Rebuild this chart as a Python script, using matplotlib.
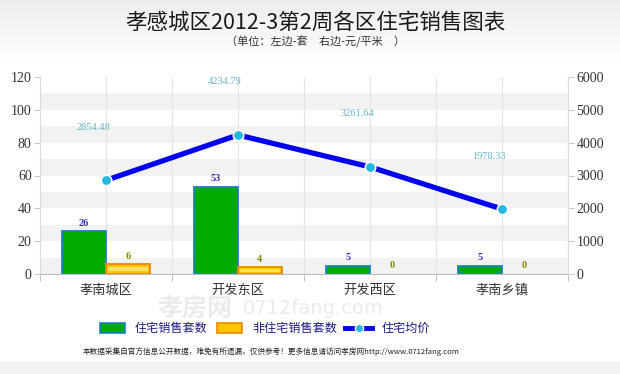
import matplotlib
matplotlib.use("Agg")
import matplotlib.pyplot as plt
import numpy as np
from matplotlib.patches import Rectangle
from matplotlib.lines import Line2D

categories = ["孝南城区", "开发东区", "开发西区", "孝南乡镇"]
residential_sets = [26, 53, 5, 5]
nonresidential_sets = [6, 4, 0, 0]
avg_price = [2854.48, 4234.79, 3261.64, 1978.33]
left_ticks = [0, 20, 40, 60, 80, 100, 120]
right_ticks = [0, 1000, 2000, 3000, 4000, 5000, 6000]
title = "孝感城区2012-3第2周各区住宅销售图表"
subtitle = "（单位：左边-套　右边-元/平米　）"
legend_labels = ["住宅销售套数", "非住宅销售套数", "住宅均价"]
footer = "本数据采集自官方信息公开数据，难免有所遗漏，仅供参考！更多信息请访问孝房网http://www.0712fang.com"

CJK = ["Noto Sans CJK SC", "DejaVu Sans"]
SERIF = ["Liberation Serif", "DejaVu Serif"]
plt.rcParams['font.family'] = CJK

W, H = 620, 374
fig = plt.figure(figsize=(W / 100, H / 100), dpi=100)

def fx(x):
    return x / W

def fy(y):
    return 1 - y / H

# background gradient (top) and bottom band
bg = fig.add_axes([0, 0, 1, 1], zorder=-10)
bg.set_axis_off()
grad = np.ones((H, 1))
grad[:60, 0] = np.linspace(0.93, 1.0, 60)
grad[362:, 0] = 0.955
bg.imshow(np.dstack([grad, grad, grad]), aspect='auto', extent=[0, 1, 0, 1])
bg.set_xlim(0, 1)
bg.set_ylim(0, 1)

x0, x1, ytop, ybot = 40, 568, 77, 274
ax = fig.add_axes([fx(x0), fy(ybot), (x1 - x0) / W, (ybot - ytop) / H])
ax.set_facecolor('white')
x = np.arange(len(categories))
ax.set_xlim(-0.5, len(categories) - 0.5)
ax.set_ylim(0, 120)

# stripes
for lo in range(0, 120, 20):
    ax.axhspan(lo, lo + 10, color='#f2f2f2', zorder=0, lw=0)
for v in np.arange(-0.5, len(categories) - 0.4, 0.5):
    ax.axvline(v, color='#e4e4e4', lw=0.8, zorder=0.5)

w = 1 / 3
ax.bar(x - w / 2, residential_sets, width=w, color='#00aa00',
       edgecolor='#1f7fc8', linewidth=[1.3 if v > 0 else 0 for v in residential_sets], zorder=2)
ax.bar(x + w / 2, nonresidential_sets, width=w, color='#ffc400',
       edgecolor='#ee8800', linewidth=[1.3 if v > 0 else 0 for v in nonresidential_sets], zorder=2)
for xi, v in zip(x, nonresidential_sets):
    if v > 0:
        ax.bar(xi + w / 2, v * 0.35, bottom=v * 0.35, width=w * 0.92,
               color='#ffe066', linewidth=0, zorder=2.1)

for xi, v in zip(x, residential_sets):
    ax.annotate(str(v), (xi - w / 2, v), xytext=(0, 8), textcoords='offset pixels',
                ha='center', va='center', fontsize=7.5, color='#3333bb',
                family=SERIF, fontweight='bold', zorder=5)
for xi, v in zip(x, nonresidential_sets):
    ax.annotate(str(v), (xi + w / 2, v), xytext=(0, 8), textcoords='offset pixels',
                ha='center', va='center', fontsize=7.5, color='#888800',
                family=SERIF, fontweight='bold', zorder=5)

ax.set_yticks(left_ticks)
ax.set_yticklabels([str(t) for t in left_ticks], family=SERIF, fontsize=10, color='#333333')
ax.set_xticks(x)
ax.set_xticklabels(categories, fontsize=9.5, color='#333333')
ax.set_xticks(np.arange(-0.5, len(categories), 1.0), minor=True)
ax.tick_params(axis='x', which='major', length=0, pad=7)
ax.tick_params(axis='x', which='minor', length=5, color='#bbbbbb', direction='out')
ax.tick_params(axis='y', length=4, color='#cccccc', pad=2)
ax.spines['top'].set_visible(False)
ax.spines['left'].set_color('#dddddd')
ax.spines['right'].set_color('#dddddd')
ax.spines['bottom'].set_color('#bbbbbb')

ax2 = ax.twinx()
ax2.set_ylim(0, 6000)
ax2.plot(x, avg_price, color='#0000ee', lw=3.8, zorder=3, solid_capstyle='round')
ax2.plot(x, avg_price, 'o', ms=7.5, color='#22b8e0', mec='white', mew=1.2, zorder=4)
for xi, v in zip(x, avg_price):
    ax2.annotate(f"{v:.2f}", (xi, v), xytext=(-13, 53), textcoords='offset pixels',
                 ha='center', va='center', fontsize=7.5, color='#66b8c0',
                 family=SERIF)
ax2.set_yticks(right_ticks)
ax2.set_yticklabels([str(t) for t in right_ticks], family=SERIF, fontsize=10, color='#333333')
ax2.tick_params(axis='y', length=4, color='#cccccc', pad=2)
for s in ['top', 'left', 'bottom']:
    ax2.spines[s].set_visible(False)
ax2.spines['right'].set_color('#dddddd')

# titles
fig.text(fx(315), fy(23), title, ha='center', va='center', fontsize=15.5, color='#1a1a1a')
fig.text(fx(316), fy(42), subtitle, ha='center', va='center', fontsize=8, color='#333333')

# watermark (faint, behind legend)
fig.text(fx(195), fy(309), "孝房网", ha='center', va='center', fontsize=18,
         color='#ebebeb', fontweight='bold', zorder=-1)
fig.text(fx(313), fy(308), "0712fang.com", ha='center', va='center', fontsize=14,
         color='#ebebeb', family=['DejaVu Sans'], zorder=-1)

# legend
ly = 328
lfs = 8.7
fig.add_artist(Rectangle((fx(100), fy(ly + 5)), 25 / W, 10 / H, transform=fig.transFigure,
                         facecolor='#00aa00', edgecolor='#1f7fc8', lw=1.2))
fig.text(fx(135), fy(ly), legend_labels[0], ha='left', va='center', fontsize=lfs, color='#1a1a88')
fig.add_artist(Rectangle((fx(217), fy(ly + 5)), 25 / W, 10 / H, transform=fig.transFigure,
                         facecolor='#ffc400', edgecolor='#ee8800', lw=1.2))
fig.text(fx(252), fy(ly), legend_labels[1], ha='left', va='center', fontsize=lfs, color='#1a1a88')
fig.add_artist(Line2D([fx(345), fx(372)], [fy(ly), fy(ly)], transform=fig.transFigure,
                      color='#0000ee', lw=3.5))
fig.add_artist(Line2D([fx(358.5)], [fy(ly)], transform=fig.transFigure, marker='o',
                      ms=6, color='#22b8e0', mec='white', mew=1))
fig.text(fx(382), fy(ly), legend_labels[2], ha='left', va='center', fontsize=lfs, color='#1a1a88')

fig.text(fx(271), fy(352), footer, ha='center', va='center', fontsize=5.5, color='#222222')

fig.savefig("out.png", dpi=100)
